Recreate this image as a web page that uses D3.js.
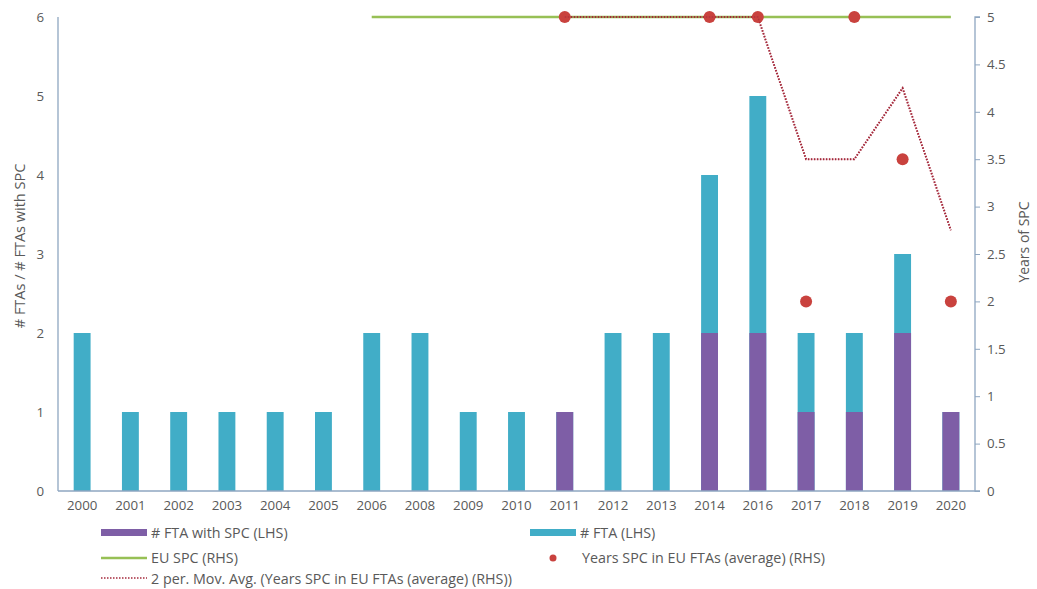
<!DOCTYPE html>
<html><head><meta charset="utf-8">
<script src="https://cdn.jsdelivr.net/npm/d3@7"></script>
<style>body{margin:0;background:#fff;} text{font-family:"Open Sans",sans-serif;}</style>
</head><body><svg id="c" width="1037" height="589"></svg>
<script>
const years = ["2000","2001","2002","2003","2004","2005","2006","2008","2009","2010","2011","2012","2013","2014","2016","2017","2018","2019","2020"];
const ftaTotal = [2,1,1,1,1,1,2,2,1,1,1,2,2,4,5,2,2,3,1];
const ftaSPC   = [0,0,0,0,0,0,0,0,0,0,1,0,0,2,2,1,1,2,1];
const euSPC    = [null,null,null,null,null,null,5,5,5,5,5,5,5,5,5,5,5,5,5];
const yearsSPC = [null,null,null,null,null,null,null,null,null,null,5,null,null,5,5,2,5,3.5,2];
const movAvg   = [null,null,null,null,null,null,null,null,null,null,5,null,null,5,5,3.5,3.5,4.25,2.75];
const leftTicks = [0,1,2,3,4,5,6];
const rightTicks = [0,0.5,1,1.5,2,2.5,3,3.5,4,4.5,5];

const svg = d3.select("#c");
const L=58, R=975, T=17, B=491;
const x = d3.scaleBand().domain(years).range([L,R]).paddingInner(0.65).paddingOuter(0.325);
const yL = d3.scaleLinear().domain([0,6]).range([B,T]);
const yR = d3.scaleLinear().domain([0,5]).range([B,T]);
const axisCol="#8ea6c0", txt="#595959";
const cyan="#41adc7", purple="#7e5ea6", green="#97c055", red="#c9423e", mav="#a52a3c";

// bars
svg.append("g").selectAll("rect").data(years).join("rect")
  .attr("x",d=>x(d)).attr("width",x.bandwidth())
  .attr("y",(d,i)=>yL(ftaTotal[i])).attr("height",(d,i)=>B-yL(ftaTotal[i])).attr("fill",cyan);
svg.append("g").selectAll("rect").data(years.filter((d,i)=>ftaSPC[i]>0)).join("rect")
  .attr("x",d=>x(d)).attr("width",x.bandwidth())
  .attr("y",d=>yL(ftaSPC[years.indexOf(d)])).attr("height",d=>B-yL(ftaSPC[years.indexOf(d)])).attr("fill",purple);

const cx = d=>x(d)+x.bandwidth()/2;
// EU SPC line
const lineG = d3.line().defined(d=>d.v!=null).x(d=>cx(d.y)).y(d=>yR(d.v));
svg.append("path").datum(years.map((y,i)=>({y,v:euSPC[i]})))
  .attr("d",lineG).attr("fill","none").attr("stroke",green).attr("stroke-width",2.5);
// moving average
const maData = years.map((y,i)=>({y,v:movAvg[i]})).filter(d=>d.v!=null);
svg.append("path").datum(maData).attr("d",d3.line().x(d=>cx(d.y)).y(d=>yR(d.v)))
  .attr("fill","none").attr("stroke",mav).attr("stroke-width",2).attr("stroke-dasharray","1.5,1.5");
// dots
svg.append("g").selectAll("circle").data(years.map((y,i)=>({y,v:yearsSPC[i]})).filter(d=>d.v!=null)).join("circle")
  .attr("cx",d=>cx(d.y)).attr("cy",d=>yR(d.v)).attr("r",6).attr("fill",red);
svg.append("path").datum(maData).attr("d",d3.line().x(d=>cx(d.y)).y(d=>yR(d.v)))
  .attr("fill","none").attr("stroke",mav).attr("stroke-width",1.5).attr("stroke-dasharray","1.5,1.5").attr("opacity",0.6);

// axes
const ax = svg.append("g").attr("transform",`translate(${L},0)`)
  .call(d3.axisLeft(yL).tickValues(leftTicks).tickSize(0).tickPadding(14).tickFormat(d3.format("d")));
const ar = svg.append("g").attr("transform",`translate(${R},0)`)
  .call(d3.axisRight(yR).tickValues(rightTicks).tickSize(5).tickPadding(7).tickFormat(d=>String(d)));
const ab = svg.append("g").attr("transform",`translate(0,${B})`)
  .call(d3.axisBottom(x).tickSize(0).tickPadding(10));
[ax,ar,ab].forEach(g=>{
  g.select(".domain").attr("stroke",axisCol).attr("stroke-width",1.3);
  g.selectAll(".tick line").attr("stroke",axisCol);
  g.selectAll("text").attr("fill",txt).style("font-family","'Open Sans',sans-serif").style("font-size","13.3px");
});
ax.select(".domain").attr("d",`M0,${T}V${B}`);
ar.select(".domain").attr("d",`M5,${T}H0V${B}H5`);
ab.select(".domain").attr("d",`M${L},0H${R}`);

// axis titles
svg.append("text").attr("transform","translate(25,246) rotate(-90)").attr("text-anchor","middle")
  .attr("fill",txt).style("font-size","14.5px").text("# FTAs / # FTAs with SPC");
svg.append("text").attr("transform","translate(1029,242) rotate(-90)").attr("text-anchor","middle")
  .attr("fill",txt).style("font-size","14px").text("Years of SPC");

// legend
const lg = svg.append("g");
const fs = "14.3px";
lg.append("rect").attr("x",101).attr("y",529).attr("width",46).attr("height",7).attr("fill",purple);
lg.append("text").attr("x",151).attr("y",538).attr("fill",txt).style("font-size",fs).text("# FTA with SPC (LHS)");
lg.append("rect").attr("x",530).attr("y",529).attr("width",46).attr("height",7).attr("fill",cyan);
lg.append("text").attr("x",580).attr("y",538).attr("fill",txt).style("font-size",fs).text("# FTA (LHS)");
lg.append("line").attr("x1",101).attr("x2",147).attr("y1",558).attr("y2",558).attr("stroke",green).attr("stroke-width",2.5);
lg.append("text").attr("x",151).attr("y",563).attr("fill",txt).style("font-size",fs).text("EU SPC (RHS)");
lg.append("circle").attr("cx",553).attr("cy",558).attr("r",3.5).attr("fill",red);
lg.append("text").attr("x",582).attr("y",563).attr("fill",txt).style("font-size",fs).text("Years SPC in EU FTAs (average) (RHS)");
lg.append("line").attr("x1",101).attr("x2",147).attr("y1",578).attr("y2",578).attr("stroke",mav).attr("stroke-width",1.5).attr("stroke-dasharray","1.5,1.5");
lg.append("text").attr("x",151).attr("y",584).attr("fill",txt).style("font-size",fs).text("2 per. Mov. Avg. (Years SPC in EU FTAs (average) (RHS))");
</script></body></html>
